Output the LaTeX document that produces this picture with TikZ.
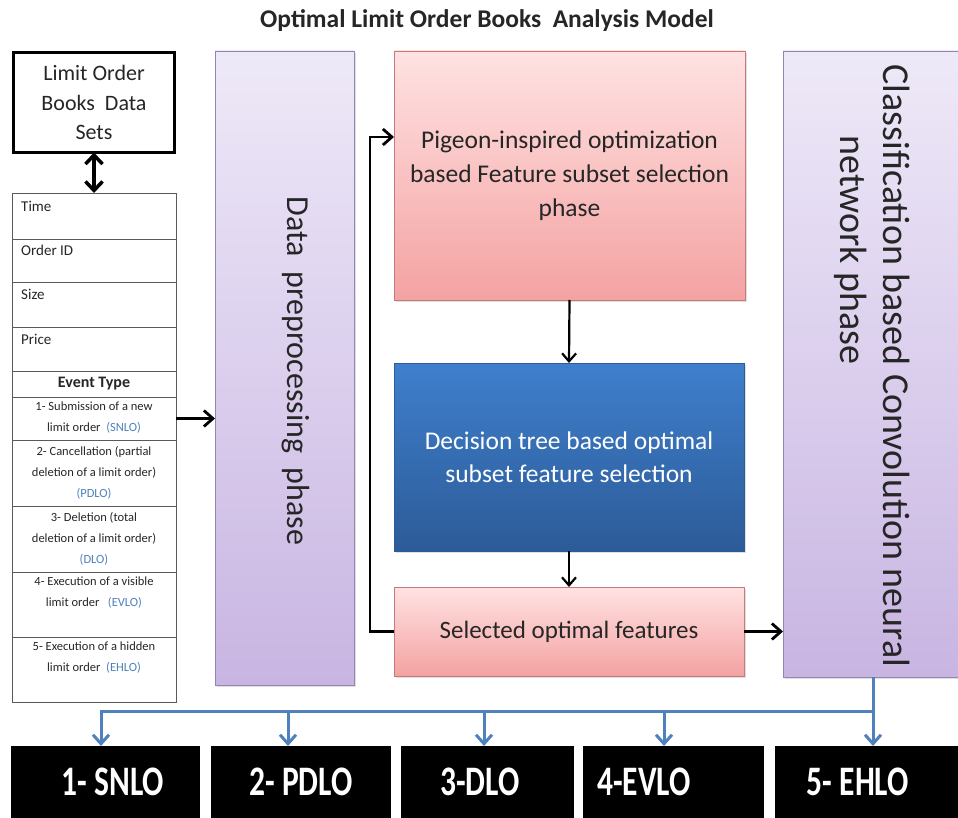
\documentclass[tikz,border=0pt]{standalone}
\usepackage{fontspec}
\usepackage{graphicx}
\setmainfont{Carlito}
\usetikzlibrary{arrows.meta,calc,shadows}

\definecolor{purTop}{HTML}{EEE9F8}
\definecolor{purBot}{HTML}{C8B5E2}
\definecolor{purLine}{HTML}{9085B5}
\definecolor{pinkTop}{HTML}{FFE2E2}
\definecolor{pinkBot}{HTML}{F4A2A2}
\definecolor{pinkLine}{HTML}{C47A7A}
\definecolor{bluTop}{HTML}{3F7FCC}
\definecolor{bluBot}{HTML}{2C5B98}
\definecolor{busBlue}{HTML}{4F81BD}
\definecolor{abbr}{HTML}{4F81BD}
\definecolor{txt}{HTML}{262626}

\tikzset{
  phase/.style={draw=purLine, line width=0.8pt, top color=purTop, bottom color=purBot, anchor=north west, inner sep=0pt, outer sep=0pt,
    drop shadow={opacity=0.25, shadow xshift=2pt, shadow yshift=-2pt}},
  pinkbox/.style={draw=pinkLine, line width=0.8pt, top color=pinkTop, bottom color=pinkBot, anchor=north west, align=center, text=txt, inner sep=0pt, outer sep=0pt,
    drop shadow={opacity=0.25, shadow xshift=2pt, shadow yshift=-2pt}},
  bluebox/.style={draw=bluBot, line width=0.8pt, top color=bluTop, bottom color=bluBot, anchor=north west, align=center, text=white, inner sep=0pt, outer sep=0pt,
    drop shadow={opacity=0.25, shadow xshift=2pt, shadow yshift=-2pt}},
  tblrow/.style={draw=black!65, line width=0.9pt, minimum width=164pt, anchor=north west, inner sep=0pt, outer sep=0pt},
  lbl/.style={anchor=base west, inner sep=0pt, font=\fontsize{15}{18}\selectfont, text=txt},
  evtxt/.style={anchor=north, inner sep=0pt, align=center, font=\fontsize{12.5}{21}\selectfont, text=txt},
  arr/.style={line width=2.8pt, -{Straight Barb[length=9pt,width=16pt]}},
  tarr/.style={line width=2.2pt, -{Straight Barb[length=8pt,width=14pt]}},
  darr/.style={line width=3.5pt, {Straight Barb[length=9pt,width=17pt]}-{Straight Barb[length=9pt,width=17pt]}},
  busline/.style={draw=busBlue, line width=3pt},
  busarr/.style={busline, -{Straight Barb[length=9pt,width=16pt]}},
  obox/.style={fill=black, minimum height=72pt, anchor=north west, inner sep=0pt, outer sep=0pt},
  otext/.style={text=white, inner sep=0pt, font=\bfseries\fontsize{42}{46}\selectfont},
  rottxt/.style={rotate=-90, inner sep=0pt, text=txt}
}

\newcommand{\ab}[1]{\textcolor{abbr}{#1}}
\newcommand{\ot}[1]{\scalebox{0.75}[1]{#1}}

\begin{document}
\begin{tikzpicture}[x=1pt,y=-1pt]
\useasboundingbox (0,0) rectangle (958,818);
\fill[white] (0,0) rectangle (958,818);

% title
\node[font=\bfseries\fontsize{25.5}{30}\selectfont, text=txt] (title) at (487,21) {Optimal Limit Order Books\ \ Analysis Model};

% data sets box
\node[draw, line width=3pt, minimum width=161pt, minimum height=100pt, anchor=north west, align=center,
      font=\fontsize{22}{29.5}\selectfont, text=txt, inner sep=0pt, outer sep=0pt] (data) at (13.5,52.5)
      {Limit Order\\Books\ \ Data\\Sets};

% table
\node[tblrow, minimum height=46pt] (time) at (12,193) {};
\node[tblrow, minimum height=43pt] (oid) at (time.south west) {};
\node[tblrow, minimum height=45pt] (size) at (oid.south west) {};
\node[tblrow, minimum height=44pt] (price) at (size.south west) {};
\node[tblrow, minimum height=26pt] (ev) at (price.south west) {};
\node[tblrow, minimum height=43pt] (r1) at (ev.south west) {};
\node[tblrow, minimum height=66pt] (r2) at (r1.south west) {};
\node[tblrow, minimum height=66pt] (r3) at (r2.south west) {};
\node[tblrow, minimum height=65pt] (r4) at (r3.south west) {};
\node[tblrow, minimum height=65pt] (r5) at (r4.south west) {};

\node[lbl] (tTime) at ($(time.north west)+(9,19)$) {Time};
\node[lbl] (tOid) at ($(oid.north west)+(9,17)$) {Order ID};
\node[lbl] (tSize) at ($(size.north west)+(9,17)$) {Size};
\node[lbl] (tPrice) at ($(price.north west)+(9,17)$) {Price};
\node[font=\bfseries\fontsize{16}{19}\selectfont, text=txt, inner sep=0pt] (tEv) at (ev.center) {Event Type};

\node[evtxt] (t1) at ($(r1.north)+(0,5)$) {1- Submission of a new\\limit order\ \ \ab{(SNLO)}};
\node[evtxt] (t2) at ($(r2.north)+(0,6)$) {2- Cancellation (partial\\deletion of a limit order)\\\ab{(PDLO)}};
\node[evtxt] (t3) at ($(r3.north)+(0,6)$) {3- Deletion (total\\deletion of a limit order)\\\ab{(DLO)}};
\node[evtxt] (t4) at ($(r4.north)+(0,5)$) {4- Execution of a visible\\limit order\ \ \ \ab{(EVLO)}};
\node[evtxt] (t5) at ($(r5.north)+(0,5)$) {5- Execution of a hidden\\limit order\ \ \ab{(EHLO)}};

% phase boxes
\node[phase, minimum width=139pt, minimum height=634pt] (pre) at (215,51) {};
\node[rottxt, font=\fontsize{32}{38}\selectfont] (preT) at (296,371) {Data\ \ preprocessing\ \ phase};

\node[pinkbox, minimum width=351pt, minimum height=249pt, font=\fontsize{25.5}{34}\selectfont] (pig) at (394,51)
  {Pigeon-inspired optimization\\based Feature subset selection\\phase};
\node[bluebox, minimum width=350pt, minimum height=188pt, font=\fontsize{25.5}{33}\selectfont] (dec) at (394,363)
  {Decision tree based optimal\\subset feature selection};
\node[pinkbox, minimum width=350pt, minimum height=89pt, font=\fontsize{25}{30}\selectfont] (sel) at (394,587)
  {Selected optimal features};

\node[phase, minimum width=180pt, minimum height=626pt] (cnn) at (783,51) {};
\node[rottxt, font=\fontsize{38}{44}\selectfont] (cnnA) at (897,366) {Classification based Convolution neural};
\node[rottxt, font=\fontsize{38}{44}\selectfont] (cnnB) at (851,250) {network phase};

% connectors
\draw[darr] (data.south) -- (data.south |- time.north);
\draw[arr] (r1.east) -- (r1.east -| pre.west);
\draw[tarr] (pig.south) -- (dec.north);
\draw[tarr] (dec.south) -- (sel.north);
\draw[arr] (sel.east) -- (sel.east -| cnn.west);
\coordinate (fb) at (370,137);
\draw[arr] (sel.west) -| (fb) -- (fb -| pig.west);

% output boxes
\node[obox, minimum width=189pt] (o1) at (11,746) {};
\node[obox, minimum width=180pt] (o2) at (211,746) {};
\node[obox, minimum width=173pt] (o3) at (401,746) {};
\node[obox, minimum width=181pt] (o4) at (583,746) {};
\node[obox, minimum width=190pt] (o5) at (775,746) {};
\node[otext] (l1) at (113,782) {\ot{1- SNLO}};
\node[otext] (l2) at (301,782) {\ot{2- PDLO}};
\node[otext] (l3) at (480,782) {\ot{3-DLO}};
\node[otext] (l4) at (644,782) {\ot{4-EVLO}};
\node[otext] (l5) at (858,782) {\ot{5- EHLO}};

% bus
\coordinate (b1) at (101,711);
\coordinate (b2) at (288,711);
\coordinate (b3) at (484,711);
\coordinate (b4) at (664,711);
\draw[busarr] (cnn.south) |- (b1) -- (b1 |- o1.north);
\draw[busarr] (b2) -- (b2 |- o2.north);
\draw[busarr] (b3) -- (b3 |- o3.north);
\draw[busarr] (b4) -- (b4 |- o4.north);
\draw[busarr] (cnn.south) -- (cnn.south |- o5.north);
\end{tikzpicture}
\end{document}
